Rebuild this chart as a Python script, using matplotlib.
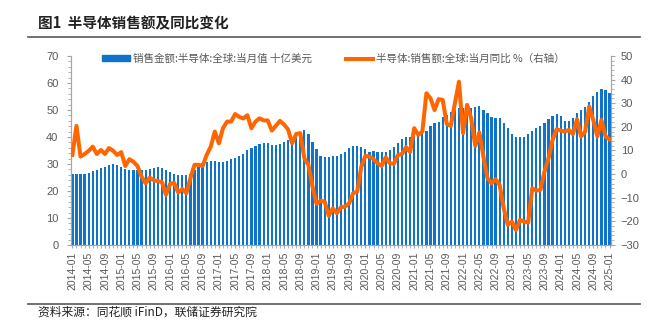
import matplotlib
matplotlib.use("Agg")
import matplotlib.pyplot as plt
from matplotlib.patches import Patch
from matplotlib.lines import Line2D
from matplotlib.ticker import MultipleLocator
import pandas as pd

# monthly categories 2014-01 .. 2025-01
months = pd.period_range("2014-01", "2025-01", freq="M").strftime("%Y-%m").tolist()

# global semiconductor sales, billion USD
sales = [
    26.3, 26.2, 26.3, 26.4, 26.8, 27.3, 27.9, 28.4, 28.9, 29.5, 29.9, 29.5,  # 2014
    28.9, 28.3, 27.8, 27.7, 27.7, 27.8, 27.8, 28.0, 28.6, 29.0, 28.6, 27.6,  # 2015
    27.0, 26.2, 25.9, 25.9, 26.0, 26.4, 27.6, 28.9, 30.2, 30.9, 31.0, 31.0,  # 2016
    30.8, 30.9, 31.2, 31.7, 32.3, 32.9, 33.8, 35.0, 35.9, 36.8, 37.5, 37.8,  # 2017
    37.6, 37.0, 37.0, 37.3, 38.2, 39.0, 39.5, 40.5, 41.4, 42.5, 41.0, 38.3,  # 2018
    35.6, 33.0, 32.6, 32.6, 33.0, 33.0, 33.5, 34.6, 35.8, 36.8, 36.8, 36.2,  # 2019
    35.4, 34.6, 34.8, 34.3, 34.4, 34.4, 35.2, 36.2, 37.7, 39.1, 40.1, 40.1,  # 2020
    41.4, 40.7, 42.0, 42.3, 44.1, 45.1, 45.7, 47.3, 48.1, 49.4, 50.0, 50.6,  # 2021
    50.9, 50.2, 50.6, 51.0, 51.5, 50.0, 49.0, 47.3, 46.9, 46.9, 45.3, 43.2,  # 2022
    41.1, 39.9, 39.9, 40.1, 41.0, 42.2, 43.2, 44.1, 45.1, 46.5, 47.8, 48.5,  # 2023
    47.8, 46.0, 45.8, 46.9, 49.0, 49.8, 51.2, 53.1, 55.2, 56.8, 57.7, 57.4,  # 2024
    56.3,                                                                    # 2025
]

# year-on-year change, % (right axis)
yoy = [
    8.1, 20.4, 7.4, 8.5, 9.8, 11.6, 8.5, 10.2, 8.5, 11.0, 9.9, 8.1,
    9.3, 3.4, 6.3, 5.2, 3.4, -1.1, -3.9, -1.5, -2.6, -3.0, -3.4, -8.8,
    -4.2, -3.7, -7.8, -6.3, -8.1, -1.8, 3.9, 3.9, 3.4, 8.1, 11.6, 18.0,
    13.0, 19.4, 22.2, 22.2, 25.4, 24.2, 23.5, 24.9, 19.4, 22.2, 23.6, 22.7,
    22.7, 18.4, 20.4, 22.5, 21.0, 18.9, 13.0, 17.0, 17.3, 6.7, 3.9, -5.3,
    -12.6, -11.3, -11.6, -17.7, -14.5, -16.6, -14.0, -13.8, -12.4, -8.1, -7.4, 3.1,
    7.7, 7.4, 6.3, 4.6, 3.4, 7.1, 4.6, 4.3, 8.1, 8.5, 11.4, 9.3,
    19.4, 16.6, 18.0, 34.2, 32.1, 27.1, 31.7, 31.4, 21.2, 20.4, 30.0, 39.1,
    17.3, 29.3, 23.6, 11.9, 17.6, 7.4, -1.8, -3.9, -2.2, -4.6, -14.5, -21.5,
    -20.1, -23.7, -19.4, -20.1, -20.6, -6.0, -7.0, -6.7, 1.0, 6.7, 14.4, 19.0,
    18.4, 18.0, 18.7, 16.9, 23.2, 15.9, 18.0, 28.6, 22.9, 15.9, 22.9, 15.9,
    14.7,
]

label_sales = "销售金额:半导体:全球:当月值 十亿美元"
label_yoy = "半导体:销售额:全球:当月同比 %（右轴）"

cjk = ["Noto Sans CJK SC", "DejaVu Sans"]
plt.rcParams["font.family"] = ["Liberation Sans", "Noto Sans CJK SC"]
grey = "#595959"
axis_grey = "#a6a6a6"
blue = "#0f73c9"
orange = "#ff6600"

fig = plt.figure(figsize=(6.51, 3.31), dpi=100)
ax = fig.add_axes([0.109, 0.26, 0.8295, 0.571])
ax2 = ax.twinx()

x = list(range(len(months)))
ax.bar(x, sales, width=0.55, color=blue, zorder=2)
ax2.plot(x, yoy, color=orange, lw=2.9, solid_joinstyle="round", zorder=3)

ax.set_xlim(-0.35, len(months) - 0.65)
ax.set_ylim(0, 70)
ax2.set_ylim(-30, 50)
ax.yaxis.set_major_locator(MultipleLocator(10))
ax.yaxis.set_minor_locator(MultipleLocator(2))
ax2.yaxis.set_major_locator(MultipleLocator(10))
ax2.yaxis.set_minor_locator(MultipleLocator(2))

ax.set_xticks(x[::4])
ax.set_xticklabels(months[::4], rotation=90)
ax.set_xticks(x, minor=True)

for a in (ax, ax2):
    for s in a.spines.values():
        s.set_color(axis_grey)
        s.set_linewidth(0.8)
    a.spines["top"].set_visible(False)
    a.tick_params(which="both", colors=axis_grey, labelcolor=grey, labelsize=8)
    a.tick_params(which="major", length=3)
    a.tick_params(which="minor", length=2)
ax.tick_params(axis="y", pad=6)
ax2.tick_params(axis="y", pad=4)
ax.tick_params(axis="x", labelsize=7.5, pad=3)
ax.tick_params(axis="x", which="both", length=2)

handles = [Patch(color=blue), Line2D([], [], color=orange, lw=2.9)]
leg = fig.legend(handles, [label_sales, label_yoy], loc="center left",
                 bbox_to_anchor=(97 / 651, 0.822), ncol=2, frameon=False,
                 borderpad=0, handlelength=2.6, handleheight=0.5,
                 handletextpad=0.3, columnspacing=3.2,
                 prop={"family": cjk, "size": 7.6})
for t in leg.get_texts():
    t.set_color(grey)

fig.text(38 / 651, 0.930, "图1  半导体销售额及同比变化", family=cjk,
         fontsize=10.5, fontweight="bold", va="center", ha="left", color="#222222")
fig.text(38 / 651, 0.057, "资料来源：同花顺 iFinD，联储证券研究院", family=cjk,
         fontsize=8.5, va="center", ha="left", color="#222222")
fig.add_artist(Line2D([28 / 651, 640 / 651], [0.888, 0.888], color="#666666", lw=1.3))
fig.add_artist(Line2D([28 / 651, 640 / 651], [0.0816, 0.0816], color="#666666", lw=1.3))

fig.savefig("out.png", dpi=100)
